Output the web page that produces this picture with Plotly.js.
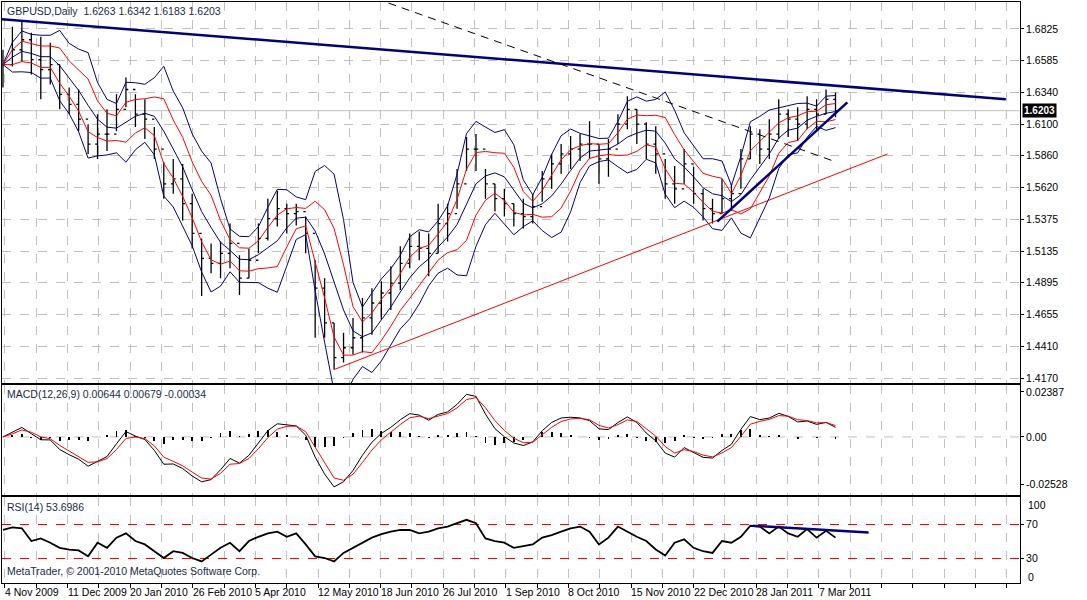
<!DOCTYPE html>
<html>
<head>
<meta charset="utf-8">
<script src="https://cdn.plot.ly/plotly-3.0.1.min.js"></script>
<style>body{margin:0;background:#fff}#chart{width:1087px;height:600px}</style>
</head>
<body>
<div id="chart"></div>
<script>
// GBPUSD daily, sampled every 4th bar (bar index = k*4)
const STEP = 4;
const high = [1.6666,1.6840,1.6893,1.6795,1.6765,1.6719,1.6553,1.6380,1.6364,1.6100,1.6176,1.6213,1.6327,1.6455,1.6327,1.6289,1.6078,1.5813,1.5836,1.5798,
  1.5572,1.5232,1.5194,1.5209,1.5345,1.5104,1.5156,1.5345,1.5534,1.5594,1.5496,1.5496,1.5398,1.5066,1.4930,1.4590,1.4515,1.4628,1.4779,1.4854,
  1.4907,1.5021,1.5172,1.5270,1.5285,1.5270,1.5496,1.5496,1.5760,1.6002,1.6025,1.5760,1.5647,1.5609,1.5496,1.5534,1.5572,1.5745,1.5874,1.5949,
  1.6010,1.6025,1.6123,1.5949,1.5987,1.6176,1.6312,1.6213,1.6115,1.6085,1.5836,1.5783,1.5911,1.5776,1.5609,1.5534,1.5685,1.5647,1.5911,1.6085,
  1.6062,1.6138,1.6289,1.6213,1.6229,1.6312,1.6289,1.6364,1.6342];
const low = [1.6380,1.6538,1.6576,1.6478,1.6289,1.6402,1.6213,1.6176,1.6047,1.5874,1.5836,1.5896,1.6047,1.6229,1.6078,1.5987,1.5836,1.5534,1.5572,1.5368,
  1.5156,1.4794,1.4968,1.4930,1.5005,1.4802,1.4930,1.5119,1.5217,1.5323,1.5270,1.5330,1.5119,1.4477,1.4477,1.4235,1.4288,1.4349,1.4364,1.4500,
  1.4613,1.4688,1.4839,1.5005,1.5066,1.4945,1.5119,1.5209,1.5458,1.5745,1.5745,1.5534,1.5436,1.5398,1.5323,1.5307,1.5345,1.5511,1.5609,1.5723,
  1.5760,1.5821,1.5836,1.5647,1.5700,1.5949,1.6062,1.5949,1.5836,1.5723,1.5534,1.5496,1.5647,1.5496,1.5368,1.5345,1.5421,1.5443,1.5609,1.5836,
  1.5798,1.5836,1.5987,1.6002,1.5972,1.6062,1.6047,1.6176,1.6153];
const close = [1.6553,1.6666,1.6742,1.6591,1.6515,1.6553,1.6327,1.6251,1.6138,1.5949,1.6025,1.6025,1.6213,1.6364,1.6176,1.6138,1.5911,1.5647,1.5685,1.5496,
  1.5270,1.5081,1.5043,1.5119,1.5194,1.4930,1.5066,1.5232,1.5383,1.5458,1.5421,1.5436,1.5270,1.4854,1.4590,1.4326,1.4401,1.4477,1.4628,1.4741,
  1.4817,1.4892,1.5043,1.5172,1.5156,1.5119,1.5345,1.5421,1.5647,1.5911,1.5911,1.5647,1.5534,1.5496,1.5421,1.5398,1.5474,1.5685,1.5798,1.5874,
  1.5911,1.5949,1.5949,1.5836,1.5911,1.6100,1.6213,1.6100,1.5949,1.5874,1.5647,1.5609,1.5798,1.5572,1.5458,1.5421,1.5534,1.5572,1.5836,1.6025,
  1.5911,1.6025,1.6176,1.6138,1.6100,1.6213,1.6176,1.6289,1.6203];
const rsi = [63,66,65,50,53,48,42,40,39,32,48,42,54,59,50,46,38,30,38,36,
  30,26,34,42,48,38,50,55,59,61,55,59,46,32,30,26,36,42,48,54,
  58,61,63,63,59,61,65,67,71,75,71,53,50,48,42,44,46,54,57,61,
  65,67,61,46,54,67,61,55,50,40,33,48,52,42,38,36,50,48,55,68,
  67,59,67,59,55,64,54,62,54];

const dateLabels = ['4 Nov 2009','11 Dec 2009','20 Jan 2010','26 Feb 2010','5 Apr 2010','12 May 2010','18 Jun 2010',
  '26 Jul 2010','1 Sep 2010','8 Oct 2010','15 Nov 2010','22 Dec 2010','28 Jan 2011','7 Mar 2011'];
const LABEL_START = 0.85, BARS_PER_LABEL = 26.47;
const priceTicks = [1.6825,1.6585,1.6340,1.6100,1.5860,1.5620,1.5375,1.5135,1.4895,1.4655,1.4410,1.4170];
const lastPrice = 1.6203;

// drawn trend lines: [bar, price] pairs
const resistLine = [[-1.3, 1.6900], [424, 1.6289]];
const dashLine = [[163, 1.7021], [351, 1.5821]];
const supportLine = [[140, 1.4235], [374, 1.5874]];
const shortLine = [[302, 1.5360], [357, 1.6266]];
const rsiLine = [[317, 68], [366, 60]];

const xs = close.map((_, i) => i * STEP);
const open = close.map((c, i) => i ? close[i - 1] : c);

// bollinger (20 daily bars ~ 5 samples)
const W = 5;
const mid = [], sd = [];
close.forEach((_, i) => {
  const win = close.slice(Math.max(0, i - W + 1), i + 1);
  const m = win.reduce((a, b) => a + b, 0) / win.length;
  mid.push(m);
  sd.push(Math.sqrt(win.reduce((a, b) => a + (b - m) * (b - m), 0) / win.length));
});
const band = (k) => mid.map((m, i) => m + k * sd[i]);

// MACD 12/26/9 scaled to the 4-bar sampling
function ema(arr, period) {
  const a = 2 / (period / STEP + 1); let prev = arr[0];
  return arr.map(v => (prev = prev + a * (v - prev)));
}
const e12 = ema(close, 12), e26 = ema(close, 26);
const macd = e12.map((v, i) => v - e26[i]);
const signal = ema(macd, 9);
const hist = macd.map((v, i) => v - signal[i]);

const navy = '#000080', red = '#ff0000';
const line = (x, y, color, w, dash, xa, ya) => ({x, y, type: 'scatter', mode: 'lines', xaxis: xa, yaxis: ya,
  line: {color, width: w, dash: dash || 'solid'}, hoverinfo: 'skip', showlegend: false});

const traces = [
  line(xs, band(2), navy, 1, null, 'x', 'y'),
  line(xs, band(-2), navy, 1, null, 'x', 'y'),
  line(xs, mid, navy, 1, null, 'x', 'y'),
  line(xs, band(1), red, 1, null, 'x', 'y'),
  line(xs, band(-1), red, 1, null, 'x', 'y'),
  {type: 'ohlc', x: xs, open, high, low, close, xaxis: 'x', yaxis: 'y', tickwidth: 0.25,
   increasing: {line: {color: '#000', width: 1.3}}, decreasing: {line: {color: '#000', width: 1.3}},
   hoverinfo: 'skip', showlegend: false},
  line(resistLine.map(p => p[0]), resistLine.map(p => p[1]), navy, 2.5, null, 'x', 'y'),
  line(dashLine.map(p => p[0]), dashLine.map(p => p[1]), '#000', 1, '8px,6px', 'x', 'y'),
  line(supportLine.map(p => p[0]), supportLine.map(p => p[1]), red, 1, null, 'x', 'y'),
  line(shortLine.map(p => p[0]), shortLine.map(p => p[1]), navy, 2.5, null, 'x', 'y'),
  {type: 'bar', x: xs, y: hist, xaxis: 'x2', yaxis: 'y2', width: 0.8, marker: {color: '#000', line: {width: 0}},
   hoverinfo: 'skip', showlegend: false},
  line(xs, macd, '#000', 1, null, 'x2', 'y2'),
  line(xs, signal, red, 1, null, 'x2', 'y2'),
  line(xs, rsi, '#000', 1.8, null, 'x3', 'y3'),
  line(rsiLine.map(p => p[0]), rsiLine.map(p => p[1]), navy, 2.5, null, 'x3', 'y3'),
];

const gridX = [];
for (let j = 0; j <= 32; j++) gridX.push(LABEL_START + j * BARS_PER_LABEL / 2);
const xRange = [-0.4, 430];
const font = {family: 'Liberation Sans, Arial, sans-serif', size: 10.5, color: '#000'};
const xBase = {range: xRange, showline: true, mirror: true, linecolor: '#000', linewidth: 1,
  showgrid: true, gridcolor: '#c0c0c0', griddash: 'dash', tickvals: gridX, ticktext: gridX.map(() => ''),
  zeroline: false, ticks: '', fixedrange: true, rangeslider: {visible: false}};
const yBase = {side: 'right', showline: true, mirror: true, linecolor: '#000', ticks: 'outside', ticklen: 3,
  tickcolor: '#000', zeroline: false, tickfont: font, griddash: 'dash', gridcolor: '#c0c0c0'};

const annotations = dateLabels.map((t, j) => ({x: LABEL_START + j * BARS_PER_LABEL, xref: 'x3', y: 0, yref: 'paper',
  text: t, showarrow: false, xanchor: 'left', yanchor: 'top', xshift: -2, yshift: -1, font}));
const label = (text, x, y, extra) => Object.assign({text, x, y, xref: 'paper', yref: 'paper', showarrow: false,
  xanchor: 'left', yanchor: 'middle', font: Object.assign({}, font, {color: '#1c2b44'})}, extra || {});
annotations.push(
  label('GBPUSD,Daily&nbsp;&nbsp;1.6263 1.6342 1.6183 1.6203', 0.003, 0.985),
  label('MACD(12,26,9) 0.00644 0.00679 -0.00034', 0.003, 0.325),
  label('RSI(14) 53.6986', 0.003, 0.131),
  label('MetaTrader, © 2001-2010 MetaQuotes Software Corp.', 0.003, 0.020),
  {text: '100', x: 1, xref: 'paper', y: 92, yref: 'y3', xanchor: 'left', xshift: 6, showarrow: false, font},
  {text: '0', x: 1, xref: 'paper', y: 8, yref: 'y3', xanchor: 'left', xshift: 6, showarrow: false, font},
  {text: '<b>' + lastPrice.toFixed(4) + '</b>', x: 1, xref: 'paper', y: lastPrice, yref: 'y', xanchor: 'left',
   xshift: 2, showarrow: false, bgcolor: '#000', font: {family: font.family, size: 10, color: '#fff'}}
);

const layout = {
  width: 1087, height: 600, paper_bgcolor: '#fff', plot_bgcolor: '#fff',
  margin: {l: 2, r: 67, t: 2, b: 17}, showlegend: false, bargap: 0,
  xaxis: Object.assign({}, xBase, {anchor: 'y'}),
  xaxis2: Object.assign({}, xBase, {anchor: 'y2', matches: 'x'}),
  xaxis3: Object.assign({}, xBase, {anchor: 'y3', matches: 'x', ticks: 'outside', ticklen: 4, tickcolor: '#000'}),
  yaxis: Object.assign({}, yBase, {domain: [0.344, 1], range: [1.4132, 1.7029], tickvals: priceTicks,
    ticktext: priceTicks.map(v => v.toFixed(4)), showgrid: true}),
  yaxis2: Object.assign({}, yBase, {domain: [0.1515, 0.341], range: [-0.0308, 0.0276],
    tickvals: [0.02387, 0, -0.02528], ticktext: ['0.02387', '0.00', '-0.02528'], showgrid: false}),
  yaxis3: Object.assign({}, yBase, {domain: [0, 0.148], range: [0.6, 101.8], tickvals: [30, 70],
    ticktext: ['30', '70'], showgrid: true, gridcolor: '#ff0000', griddash: 'dash'}),
  shapes: [
    {type: 'line', xref: 'paper', x0: 0, x1: 1, yref: 'y', y0: lastPrice, y1: lastPrice, layer: 'below',
     line: {color: '#c0c0c0', width: 1}},
    {type: 'line', xref: 'paper', x0: 0, x1: 1, yref: 'y2', y0: 0, y1: 0, layer: 'below',
     line: {color: '#c0c0c0', width: 1, dash: 'dash'}},
  ],
  annotations,
};

Plotly.newPlot('chart', traces, layout, {staticPlot: true});
</script>
</body>
</html>
